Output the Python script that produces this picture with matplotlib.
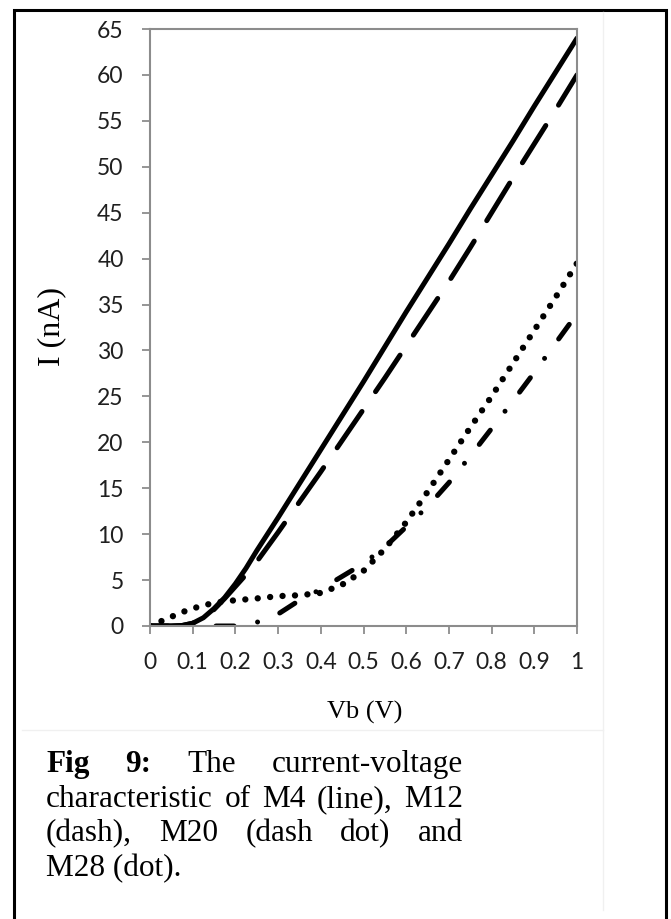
import matplotlib
matplotlib.use("Agg")
import matplotlib.pyplot as plt
from matplotlib.patches import Rectangle
from matplotlib.lines import Line2D
from matplotlib.transforms import IdentityTransform

# ---- data ----
vb = [0.0, 0.025, 0.05, 0.075, 0.1, 0.125, 0.15, 0.175, 0.2, 0.225, 0.25, 0.3, 0.35, 0.4, 0.45, 0.5,
      0.55, 0.6, 0.65, 0.7, 0.75, 0.8, 0.85, 0.9, 0.95, 1.0]
m4 = [0.0, 0.0, 0.0, 0.05, 0.3, 0.9, 1.9, 3.1, 4.6, 6.3, 8.2, 11.8, 15.5, 19.2, 22.9, 26.6,
      30.4, 34.2, 37.9, 41.6, 45.4, 49.1, 52.8, 56.6, 60.3, 64.0]
m12 = [0.0, 0.0, 0.0, 0.05, 0.3, 0.9, 1.8, 3.0, 4.3, 5.6, 7.0, 10.2, 13.5, 16.8, 20.2, 23.6,
       27.0, 30.5, 34.0, 37.5, 41.2, 45.0, 48.8, 52.5, 56.2, 60.0]
m20 = [0.0, 0.0, 0.0, 0.0, 0.0, 0.0, 0.0, 0.0, 0.0, 0.1, 0.4, 1.3, 2.8, 4.0, 5.4, 6.8,
       8.6, 10.8, 13.0, 15.6, 18.5, 21.5, 24.5, 27.6, 30.8, 34.0]
m28 = [0.0, 0.5, 1.0, 1.5, 1.9, 2.25, 2.5, 2.7, 2.8, 2.9, 3.0, 3.25, 3.35, 3.6, 4.5, 6.0,
       8.4, 11.3, 14.6, 18.1, 21.6, 25.0, 28.6, 32.2, 35.8, 39.5]
x_ticks = [0, 0.1, 0.2, 0.3, 0.4, 0.5, 0.6, 0.7, 0.8, 0.9, 1]
x_tick_labels = ["0", "0.1", "0.2", "0.3", "0.4", "0.5", "0.6", "0.7", "0.8", "0.9", "1"]
y_ticks = list(range(0, 70, 5))
x_label = "Vb (V)"
y_label = "I (nA)"
caption_lines = [
    [("Fig", "bold"), ("9:", "bold"), ("The", "normal"), ("current-voltage", "normal")],
    [("characteristic", "normal"), ("of", "normal"), ("M4", "normal"), ("(line),", "normal"), ("M12", "normal")],
    [("(dash),", "normal"), ("M20", "normal"), ("(dash", "normal"), ("dot)", "normal"), ("and", "normal")],
    [("M28 (dot).", "normal")],
]

W, H = 671, 919
fig = plt.figure(figsize=(W / 100, H / 100), dpi=100)
fig.patch.set_facecolor("white")

ax = fig.add_axes([150 / W, 1 - 626 / H, (577 - 150) / W, (626 - 29) / H])

lw = 3.6
ax.plot(vb, m4, color="black", lw=lw, solid_capstyle="round", solid_joinstyle="round")
ax.plot(vb, m12, color="black", lw=lw, linestyle=(0, (8.8, 4.8)), dash_capstyle="round")
ax.plot(vb, m20, color="black", lw=lw, linestyle=(0, (3.6, 4.8, 0.001, 4.8)), dash_capstyle="round")
ax.plot(vb, m28, color="black", lw=4.6, linestyle=(0, (0.001, 1.95)), dash_capstyle="round")

ax.set_xlim(0, 1)
ax.set_ylim(0, 65)
ax.set_xticks(x_ticks)
ax.set_xticklabels(x_tick_labels)
ax.set_yticks(y_ticks)
for s in ax.spines.values():
    s.set_color("#8c8c8c")
    s.set_linewidth(1.5)
ax.tick_params(axis="both", direction="out", length=6, width=1.3, color="#8c8c8c",
               labelsize=16.5, labelcolor="#1f1f1f", pad=13)
for lab in ax.get_xticklabels() + ax.get_yticklabels():
    lab.set_family(["Lato", "DejaVu Sans"])

serif = ["Liberation Serif", "DejaVu Serif"]
fig.text(365 / W, 1 - 712 / H, x_label, ha="center", va="center", fontsize=19, family=serif)
fig.text(52 / W, 1 - 326 / H, y_label, ha="center", va="center", rotation=90, fontsize=23, family=serif)

# outer border and faint chart-area lines
fig.add_artist(Rectangle((14 / W, -0.05), (665.5 - 14) / W, 1.05 - 9.5 / H,
                         transform=fig.transFigure, fill=False, edgecolor="black", lw=2.2))
fig.add_artist(Line2D([22 / W, 603 / W], [1 - 730 / H, 1 - 730 / H], transform=fig.transFigure,
                      color="#f0f0f0", lw=1))
fig.add_artist(Line2D([603 / W, 603 / W], [1 - 12 / H, 1 - 910 / H], transform=fig.transFigure,
                      color="#f0f0f0", lw=1))

# justified caption
fig.canvas.draw()
renderer = fig.canvas.get_renderer()
x_left, x_right = 46, 463
baselines = [772, 807, 841, 876]
cap_size = 22.5
for words, yb in zip(caption_lines, baselines):
    texts = []
    for w, wt in words:
        t = fig.text(0, 0, w, fontsize=cap_size, family=serif, weight=wt,
                     ha="left", va="baseline", transform=IdentityTransform())
        texts.append(t)
    widths = [t.get_window_extent(renderer).width for t in texts]
    if len(texts) > 1:
        gap = (x_right - x_left - sum(widths)) / (len(texts) - 1)
    else:
        gap = 0
    x = x_left
    for t, wdt in zip(texts, widths):
        t.set_position((x, H - yb))
        x += wdt + gap

fig.savefig("out.png", dpi=100)
